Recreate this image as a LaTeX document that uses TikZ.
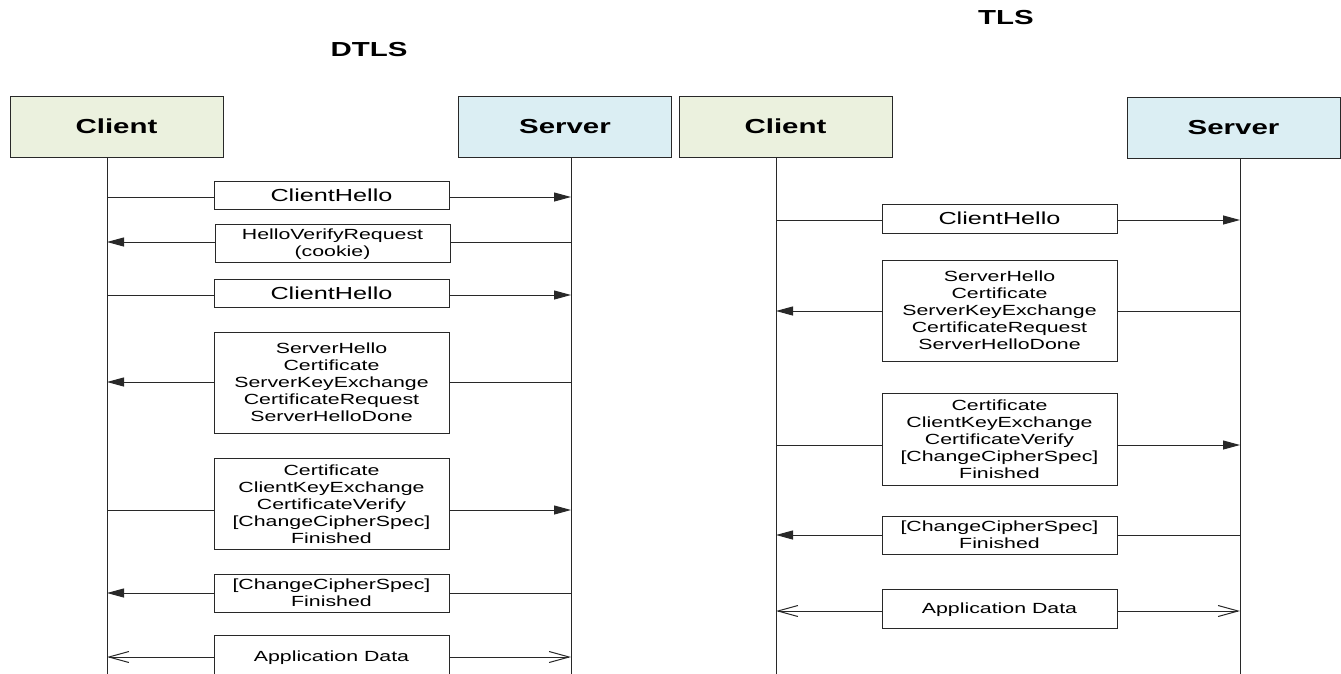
\documentclass[tikz,border=0pt]{standalone}
\usepackage{graphicx}
\usepackage{fontspec}
\setmainfont{Liberation Sans}
\usetikzlibrary{arrows.meta}
\definecolor{cgreen}{RGB}{235,241,222}
\definecolor{sblue}{RGB}{219,238,243}
\definecolor{lcol}{RGB}{40,40,40}
\newcommand{\hs}[1]{\scalebox{1.45}[1]{#1}}
\newcommand{\mlines}[1]{\raisebox{-2pt}[\height][\depth]{\hs{\fontsize{14.7}{17}\selectfont\begin{tabular}{@{}c@{}}#1\end{tabular}}}}
\newcommand{\oneline}[1]{\hs{\fontsize{17.4}{20}\selectfont #1}}
\newcommand{\hdrtext}[1]{\hs{\fontsize{20.3}{24}\selectfont\bfseries #1}}
\begin{document}
\begin{tikzpicture}[x=1pt,y=-1pt,
  hdrbox/.style={draw=lcol, line width=1pt, inner sep=0pt, minimum width=213pt, minimum height=61pt},
  clbox/.style={hdrbox, fill=cgreen},
  svbox/.style={hdrbox, fill=sblue},
  msgbox/.style={draw=lcol, line width=1pt, fill=white, inner sep=0pt, minimum width=235pt},
  ln/.style={draw=lcol, line width=1pt},
  arr/.style={-{Triangle[length=17pt,width=9pt]}},
  barb/.style={-{Straight Barb[length=20pt,width=11pt,line width=1pt]}},
  ttl/.style={inner sep=0pt}
]
\useasboundingbox (0,0) rectangle (1341,673);
\fill[white] (0,0) rectangle (1341,673);

% ===== DTLS =====
\node[ttl] (tdtls) at (369,50) {\hdrtext{DTLS}};
\node[clbox] (c1) at (116.5,126.5) {\hdrtext{Client}};
\node[svbox] (s1) at (565,127) {\hdrtext{Server}};
\coordinate (c1bot) at (107,676);
\coordinate (s1bot) at (571,676);
\draw[ln] (c1.south -| c1bot) -- (c1bot);
\draw[ln] (s1.south -| s1bot) -- (s1bot);

% msg 1
\node[msgbox, minimum height=28pt] (d1) at (331.5,195.5) {\oneline{ClientHello}};
\coordinate (d1c) at (107,197); \coordinate (d1s) at (571,197);
\draw[ln] (d1c) -- (d1.west |- d1c);
\draw[ln,arr] (d1.east |- d1c) -- (d1s);
% msg 2
\node[msgbox, minimum height=38pt] (d2) at (332.5,243) {\mlines{HelloVerifyRequest\\(cookie)}};
\coordinate (d2c) at (107,242); \coordinate (d2s) at (571,242);
\draw[ln] (d2s) -- (d2.east |- d2s);
\draw[ln,arr] (d2.west |- d2s) -- (d2c);
% msg 3
\node[msgbox, minimum height=28pt] (d3) at (331.5,293) {\oneline{ClientHello}};
\coordinate (d3c) at (107,295); \coordinate (d3s) at (571,295);
\draw[ln] (d3c) -- (d3.west |- d3c);
\draw[ln,arr] (d3.east |- d3c) -- (d3s);
% msg 4
\node[msgbox, minimum height=101pt] (d4) at (331.5,382.5) {\mlines{ServerHello\\Certificate\\ServerKeyExchange\\CertificateRequest\\ServerHelloDone}};
\coordinate (d4c) at (107,382); \coordinate (d4s) at (571,382);
\draw[ln] (d4s) -- (d4.east |- d4s);
\draw[ln,arr] (d4.west |- d4s) -- (d4c);
% msg 5
\node[msgbox, minimum height=91pt] (d5) at (331.5,504) {\mlines{Certificate\\ClientKeyExchange\\CertificateVerify\\{[ChangeCipherSpec]}\\Finished}};
\coordinate (d5c) at (107,510); \coordinate (d5s) at (571,510);
\draw[ln] (d5c) -- (d5.west |- d5c);
\draw[ln,arr] (d5.east |- d5c) -- (d5s);
% msg 6
\node[msgbox, minimum height=38pt] (d6) at (331.5,593) {\mlines{{[ChangeCipherSpec]}\\Finished}};
\coordinate (d6c) at (107,593); \coordinate (d6s) at (571,593);
\draw[ln] (d6s) -- (d6.east |- d6s);
\draw[ln,arr] (d6.west |- d6s) -- (d6c);
% msg 7
\node[msgbox, minimum height=42pt] (d7) at (331.5,656) {\mlines{Application Data}};
\coordinate (d7c) at (107,657); \coordinate (d7s) at (571,657);
\draw[ln,barb] (d7.west |- d7c) -- (d7c);
\draw[ln,barb] (d7.east |- d7c) -- (d7s);

% ===== TLS =====
\node[ttl] (ttls) at (1006,18) {\hdrtext{TLS}};
\node[clbox] (c2) at (785.5,126.5) {\hdrtext{Client}};
\node[svbox] (s2) at (1233.5,127.5) {\hdrtext{Server}};
\coordinate (c2bot) at (776,676);
\coordinate (s2bot) at (1240,676);
\draw[ln] (c2.south -| c2bot) -- (c2bot);
\draw[ln] (s2.south -| s2bot) -- (s2bot);

% msg 1
\node[msgbox, minimum height=29pt] (t1) at (999.5,218.5) {\oneline{ClientHello}};
\coordinate (t1c) at (776,220); \coordinate (t1s) at (1240,220);
\draw[ln] (t1c) -- (t1.west |- t1c);
\draw[ln,arr] (t1.east |- t1c) -- (t1s);
% msg 2
\node[msgbox, minimum height=101pt] (t2) at (999.5,310.5) {\mlines{ServerHello\\Certificate\\ServerKeyExchange\\CertificateRequest\\ServerHelloDone}};
\coordinate (t2c) at (776,311); \coordinate (t2s) at (1240,311);
\draw[ln] (t2s) -- (t2.east |- t2s);
\draw[ln,arr] (t2.west |- t2s) -- (t2c);
% msg 3
\node[msgbox, minimum height=92pt] (t3) at (999.5,439) {\mlines{Certificate\\ClientKeyExchange\\CertificateVerify\\{[ChangeCipherSpec]}\\Finished}};
\coordinate (t3c) at (776,445); \coordinate (t3s) at (1240,445);
\draw[ln] (t3c) -- (t3.west |- t3c);
\draw[ln,arr] (t3.east |- t3c) -- (t3s);
% msg 4
\node[msgbox, minimum height=38pt] (t4) at (999.5,535) {\mlines{{[ChangeCipherSpec]}\\Finished}};
\coordinate (t4c) at (776,535); \coordinate (t4s) at (1240,535);
\draw[ln] (t4s) -- (t4.east |- t4s);
\draw[ln,arr] (t4.west |- t4s) -- (t4c);
% msg 5
\node[msgbox, minimum height=39pt] (t5) at (999.5,608.5) {\mlines{Application Data}};
\coordinate (t5c) at (776,611); \coordinate (t5s) at (1240,611);
\draw[ln,barb] (t5.west |- t5c) -- (t5c);
\draw[ln,barb] (t5.east |- t5c) -- (t5s);
\end{tikzpicture}
\end{document}
